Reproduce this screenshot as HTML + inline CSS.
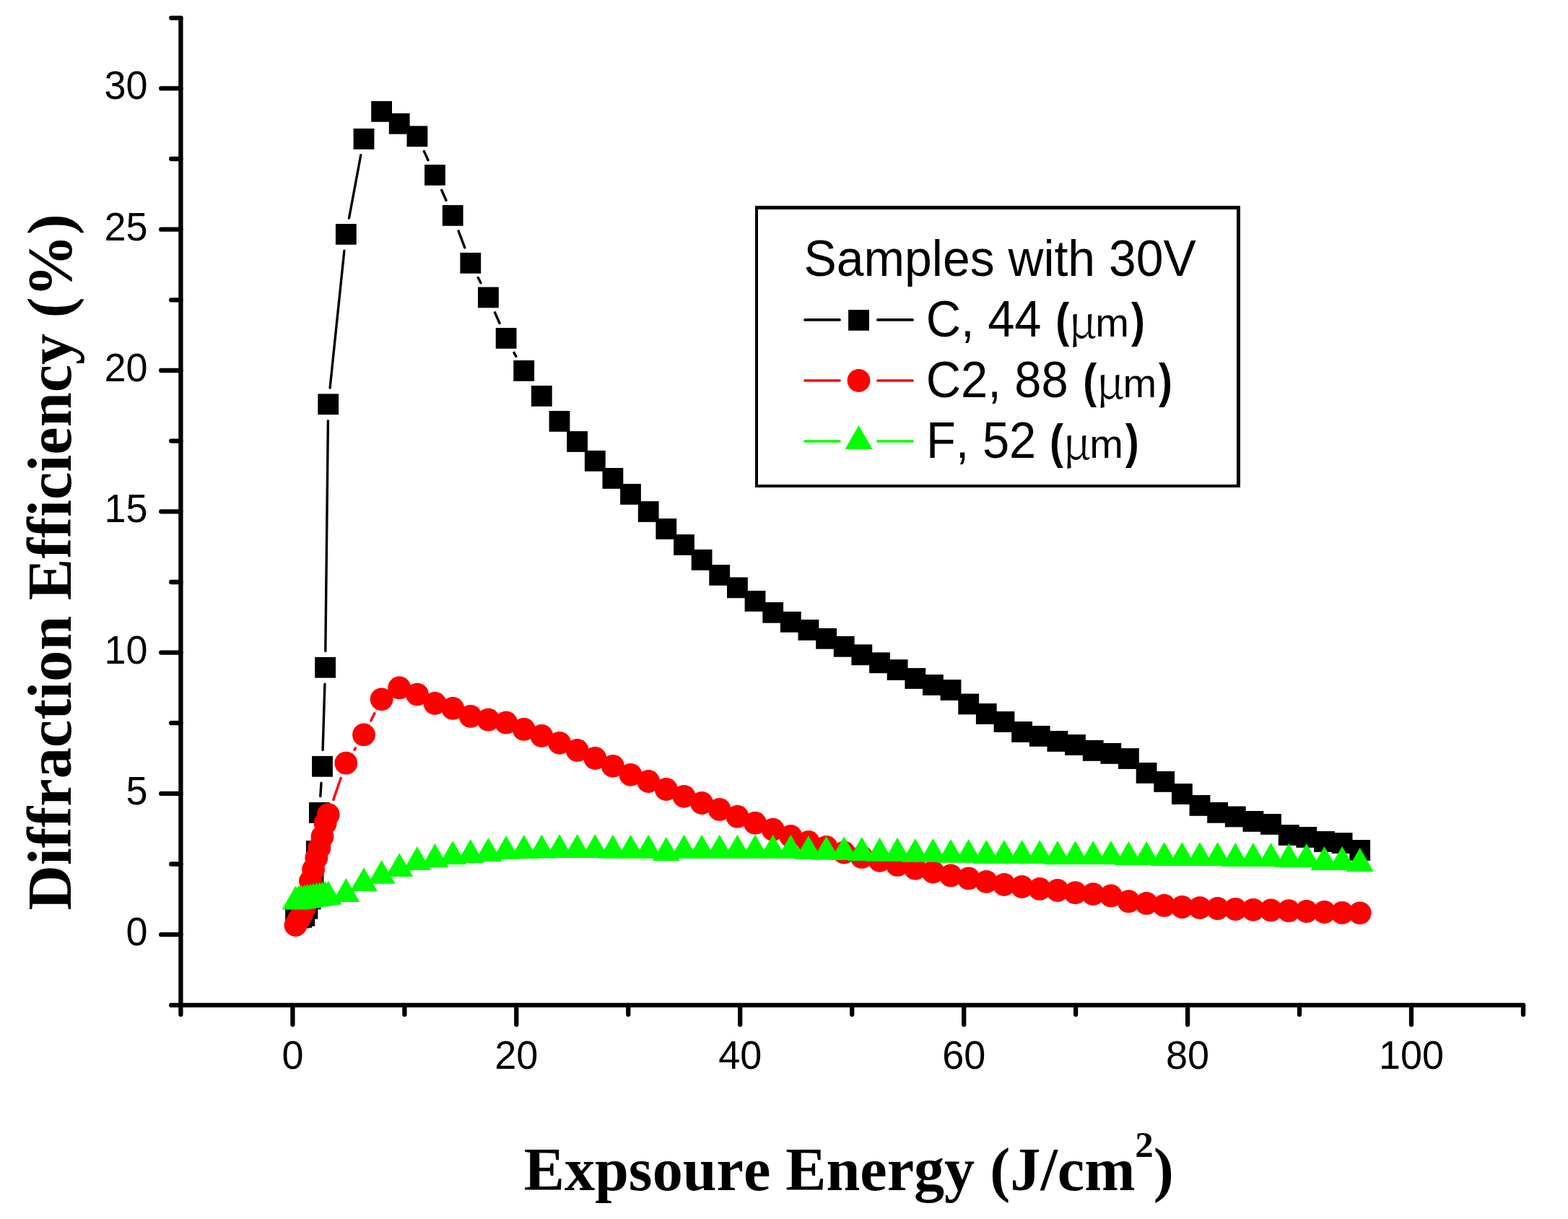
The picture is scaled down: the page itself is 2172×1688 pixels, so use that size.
<!DOCTYPE html>
<html><head><meta charset="utf-8"><title>Diffraction Efficiency vs Exposure Energy</title>
<style>html,body{margin:0;padding:0;background:#fff;overflow:hidden;} svg{display:block;} text{font-kerning:none;}</style></head>
<body>
<svg width="2172" height="1688" viewBox="0 0 2172 1688">
<rect width="2172" height="1688" fill="#fff"/>
<path d="M250.4 24.8L250.4 1391.9L2110.0 1391.9" stroke="#000" stroke-width="6.3" stroke-linecap="round" stroke-linejoin="round" fill="none"/><path d="M250.4 1294.2H223.2M250.4 1098.9H223.2M250.4 903.6H223.2M250.4 708.3H223.2M250.4 513.0H223.2M250.4 317.7H223.2M250.4 122.4H223.2M250.4 1391.9H237.2M250.4 1196.5H237.2M250.4 1001.2H237.2M250.4 806.0H237.2M250.4 610.6H237.2M250.4 415.4H237.2M250.4 220.0H237.2M250.4 24.8H237.2M405.4 1391.9V1418.8M715.3 1391.9V1418.8M1025.2 1391.9V1418.8M1335.2 1391.9V1418.8M1645.1 1391.9V1418.8M1955.0 1391.9V1418.8M250.4 1391.9V1404.8M560.4 1391.9V1404.8M870.3 1391.9V1404.8M1180.2 1391.9V1404.8M1490.1 1391.9V1404.8M1800.0 1391.9V1404.8M2110.0 1391.9V1404.8" stroke="#000" stroke-width="6.3" stroke-linecap="round" fill="none"/>
<g font-family="Liberation Sans, Arial, sans-serif" font-size="54" fill="#000"><text transform="translate(204.5 1309.2) scale(1 1.045)" text-anchor="end">0</text><text transform="translate(204.5 1113.9) scale(1 1.045)" text-anchor="end">5</text><text transform="translate(204.5 918.6) scale(1 1.045)" text-anchor="end">10</text><text transform="translate(204.5 723.3) scale(1 1.045)" text-anchor="end">15</text><text transform="translate(204.5 528.0) scale(1 1.045)" text-anchor="end">20</text><text transform="translate(204.5 332.7) scale(1 1.045)" text-anchor="end">25</text><text transform="translate(204.5 137.4) scale(1 1.045)" text-anchor="end">30</text><text transform="translate(405.4 1480.3) scale(1 1.045)" text-anchor="middle">0</text><text transform="translate(715.3 1480.3) scale(1 1.045)" text-anchor="middle">20</text><text transform="translate(1025.2 1480.3) scale(1 1.045)" text-anchor="middle">40</text><text transform="translate(1335.2 1480.3) scale(1 1.045)" text-anchor="middle">60</text><text transform="translate(1645.1 1480.3) scale(1 1.045)" text-anchor="middle">80</text><text transform="translate(1955.0 1480.3) scale(1 1.045)" text-anchor="middle">100</text></g>
<text x="725.8" y="1647.7" font-family="Liberation Serif, Times New Roman, serif" font-weight="bold" font-size="84.2" fill="#000">Expsoure Energy (J/cm<tspan font-size="51" dy="-46">2</tspan><tspan dy="46">)</tspan></text>
<text transform="translate(98 1260.6) rotate(-90)" x="0" y="0" font-family="Liberation Serif, Times New Roman, serif" font-weight="bold" font-size="86.4" fill="#000">Diffraction Efficiency (%)</text>
<path d="M440.0 1155.8L440.6 1148.1M443.8 1102.6L445.0 1084.1M447.1 1038.5L449.9 947.1M450.8 901.5L454.4 582.6M457.1 537.1L476.9 347.1M483.5 302.0L499.8 214.8M587.4 209.5L593.0 221.7M611.7 263.3L618.0 277.5M635.1 319.8L643.8 342.9M662.3 384.5L666.0 391.7M685.5 432.8L692.0 447.5M712.0 488.4L714.8 493.4" stroke="#000" stroke-width="3.4" stroke-linecap="round" fill="none"/>
<g fill="#000"><rect x="395.1" y="1257.6" width="28.8" height="28.8"/><rect x="399.2" y="1256.6" width="28.8" height="28.8"/><rect x="403.3" y="1255.9" width="28.8" height="28.8"/><rect x="407.4" y="1253.8" width="28.8" height="28.8"/><rect x="411.5" y="1243.8" width="28.8" height="28.8"/><rect x="415.6" y="1230.6" width="28.8" height="28.8"/><rect x="419.7" y="1207.6" width="28.8" height="28.8"/><rect x="423.9" y="1164.1" width="28.8" height="28.8"/><rect x="428.0" y="1111.0" width="28.8" height="28.8"/><rect x="432.1" y="1046.9" width="28.8" height="28.8"/><rect x="436.2" y="909.9" width="28.8" height="28.8"/><rect x="440.3" y="545.4" width="28.8" height="28.8"/><rect x="464.9" y="310.0" width="28.8" height="28.8"/><rect x="489.6" y="178.0" width="28.8" height="28.8"/><rect x="514.2" y="140.0" width="28.8" height="28.8"/><rect x="538.8" y="156.9" width="28.8" height="28.8"/><rect x="563.5" y="174.4" width="28.8" height="28.8"/><rect x="588.1" y="228.0" width="28.8" height="28.8"/><rect x="612.8" y="284.0" width="28.8" height="28.8"/><rect x="637.4" y="349.9" width="28.8" height="28.8"/><rect x="662.0" y="397.5" width="28.8" height="28.8"/><rect x="686.7" y="454.0" width="28.8" height="28.8"/><rect x="711.3" y="499.0" width="28.8" height="28.8"/><rect x="735.9" y="534.0" width="28.8" height="28.8"/><rect x="760.6" y="569.0" width="28.8" height="28.8"/><rect x="785.2" y="597.1" width="28.8" height="28.8"/><rect x="809.9" y="623.9" width="28.8" height="28.8"/><rect x="834.5" y="648.0" width="28.8" height="28.8"/><rect x="859.1" y="670.0" width="28.8" height="28.8"/><rect x="883.8" y="694.1" width="28.8" height="28.8"/><rect x="908.4" y="718.0" width="28.8" height="28.8"/><rect x="933.1" y="740.0" width="28.8" height="28.8"/><rect x="957.7" y="760.9" width="28.8" height="28.8"/><rect x="982.3" y="782.0" width="28.8" height="28.8"/><rect x="1007.0" y="799.4" width="28.8" height="28.8"/><rect x="1031.6" y="818.0" width="28.8" height="28.8"/><rect x="1056.3" y="833.9" width="28.8" height="28.8"/><rect x="1080.9" y="846.9" width="28.8" height="28.8"/><rect x="1105.5" y="858.0" width="28.8" height="28.8"/><rect x="1130.2" y="869.9" width="28.8" height="28.8"/><rect x="1154.8" y="880.9" width="28.8" height="28.8"/><rect x="1179.4" y="892.4" width="28.8" height="28.8"/><rect x="1204.1" y="903.4" width="28.8" height="28.8"/><rect x="1228.7" y="913.2" width="28.8" height="28.8"/><rect x="1253.4" y="925.1" width="28.8" height="28.8"/><rect x="1278.0" y="934.1" width="28.8" height="28.8"/><rect x="1302.6" y="941.1" width="28.8" height="28.8"/><rect x="1327.3" y="960.6" width="28.8" height="28.8"/><rect x="1351.9" y="974.1" width="28.8" height="28.8"/><rect x="1376.6" y="985.1" width="28.8" height="28.8"/><rect x="1401.2" y="999.1" width="28.8" height="28.8"/><rect x="1425.8" y="1005.0" width="28.8" height="28.8"/><rect x="1450.5" y="1012.1" width="28.8" height="28.8"/><rect x="1475.1" y="1017.1" width="28.8" height="28.8"/><rect x="1499.8" y="1025.0" width="28.8" height="28.8"/><rect x="1524.4" y="1029.0" width="28.8" height="28.8"/><rect x="1549.0" y="1036.1" width="28.8" height="28.8"/><rect x="1573.7" y="1056.0" width="28.8" height="28.8"/><rect x="1598.3" y="1068.0" width="28.8" height="28.8"/><rect x="1623.0" y="1085.1" width="28.8" height="28.8"/><rect x="1647.6" y="1101.0" width="28.8" height="28.8"/><rect x="1672.2" y="1110.9" width="28.8" height="28.8"/><rect x="1696.9" y="1116.5" width="28.8" height="28.8"/><rect x="1721.5" y="1123.0" width="28.8" height="28.8"/><rect x="1746.1" y="1127.0" width="28.8" height="28.8"/><rect x="1770.8" y="1142.0" width="28.8" height="28.8"/><rect x="1795.4" y="1145.0" width="28.8" height="28.8"/><rect x="1820.1" y="1151.0" width="28.8" height="28.8"/><rect x="1844.7" y="1153.1" width="28.8" height="28.8"/><rect x="1869.3" y="1163.0" width="28.8" height="28.8"/></g>
<path d="M461.8 1107.4L472.2 1077.3M490.9 1038.2L492.4 1035.9M513.7 997.9L518.8 987.8" stroke="#f00" stroke-width="3.4" stroke-linecap="round" fill="none"/>
<g fill="#f00"><circle cx="409.5" cy="1281.0" r="15.9"/><circle cx="413.6" cy="1274.0" r="15.9"/><circle cx="417.7" cy="1267.0" r="15.9"/><circle cx="421.8" cy="1257.0" r="15.9"/><circle cx="425.9" cy="1240.0" r="15.9"/><circle cx="430.0" cy="1220.0" r="15.9"/><circle cx="434.1" cy="1204.0" r="15.9"/><circle cx="438.3" cy="1188.0" r="15.9"/><circle cx="442.4" cy="1174.0" r="15.9"/><circle cx="446.5" cy="1158.5" r="15.9"/><circle cx="450.6" cy="1140.0" r="15.9"/><circle cx="454.7" cy="1128.0" r="15.9"/><circle cx="479.3" cy="1056.7" r="15.9"/><circle cx="504.0" cy="1017.4" r="15.9"/><circle cx="528.6" cy="968.3" r="15.9"/><circle cx="553.2" cy="952.4" r="15.9"/><circle cx="577.9" cy="961.6" r="15.9"/><circle cx="602.5" cy="974.0" r="15.9"/><circle cx="627.2" cy="980.9" r="15.9"/><circle cx="651.8" cy="991.9" r="15.9"/><circle cx="676.4" cy="996.7" r="15.9"/><circle cx="701.1" cy="1000.7" r="15.9"/><circle cx="725.7" cy="1009.9" r="15.9"/><circle cx="750.3" cy="1018.9" r="15.9"/><circle cx="775.0" cy="1028.8" r="15.9"/><circle cx="799.6" cy="1039.0" r="15.9"/><circle cx="824.3" cy="1050.0" r="15.9"/><circle cx="848.9" cy="1060.8" r="15.9"/><circle cx="873.5" cy="1072.8" r="15.9"/><circle cx="898.2" cy="1082.0" r="15.9"/><circle cx="922.8" cy="1093.0" r="15.9"/><circle cx="947.5" cy="1102.8" r="15.9"/><circle cx="972.1" cy="1112.0" r="15.9"/><circle cx="996.7" cy="1120.9" r="15.9"/><circle cx="1021.4" cy="1130.7" r="15.9"/><circle cx="1046.0" cy="1139.7" r="15.9"/><circle cx="1070.7" cy="1148.7" r="15.9"/><circle cx="1095.3" cy="1157.9" r="15.9"/><circle cx="1119.9" cy="1166.0" r="15.9"/><circle cx="1144.6" cy="1173.0" r="15.9"/><circle cx="1169.2" cy="1180.5" r="15.9"/><circle cx="1193.8" cy="1186.9" r="15.9"/><circle cx="1218.5" cy="1191.8" r="15.9"/><circle cx="1243.1" cy="1197.9" r="15.9"/><circle cx="1267.8" cy="1202.7" r="15.9"/><circle cx="1292.4" cy="1207.6" r="15.9"/><circle cx="1317.0" cy="1212.4" r="15.9"/><circle cx="1341.7" cy="1216.4" r="15.9"/><circle cx="1366.3" cy="1220.9" r="15.9"/><circle cx="1391.0" cy="1225.0" r="15.9"/><circle cx="1415.6" cy="1228.0" r="15.9"/><circle cx="1440.2" cy="1230.9" r="15.9"/><circle cx="1464.9" cy="1233.0" r="15.9"/><circle cx="1489.5" cy="1236.2" r="15.9"/><circle cx="1514.2" cy="1238.1" r="15.9"/><circle cx="1538.8" cy="1240.4" r="15.9"/><circle cx="1563.4" cy="1248.2" r="15.9"/><circle cx="1588.1" cy="1250.9" r="15.9"/><circle cx="1612.7" cy="1253.9" r="15.9"/><circle cx="1637.4" cy="1256.0" r="15.9"/><circle cx="1662.0" cy="1257.1" r="15.9"/><circle cx="1686.6" cy="1258.0" r="15.9"/><circle cx="1711.3" cy="1259.0" r="15.9"/><circle cx="1735.9" cy="1259.8" r="15.9"/><circle cx="1760.5" cy="1260.4" r="15.9"/><circle cx="1785.2" cy="1261.2" r="15.9"/><circle cx="1809.8" cy="1262.0" r="15.9"/><circle cx="1834.5" cy="1263.0" r="15.9"/><circle cx="1859.1" cy="1263.9" r="15.9"/><circle cx="1883.7" cy="1264.3" r="15.9"/></g>
<path d="" stroke="#0f0" stroke-width="3.4" stroke-linecap="round" fill="none"/>
<path fill="#0f0" d="M409.5 1226.6L428.5 1259.5L390.6 1259.5ZM413.6 1225.9L432.6 1258.8L394.7 1258.8ZM417.7 1225.3L436.7 1258.2L398.8 1258.2ZM421.8 1224.7L440.8 1257.6L402.9 1257.6ZM425.9 1224.0L444.9 1256.9L407.0 1256.9ZM430.0 1223.4L449.0 1256.3L411.1 1256.3ZM434.1 1222.7L453.1 1255.6L415.2 1255.6ZM438.3 1222.1L457.2 1255.0L419.3 1255.0ZM442.4 1221.5L461.3 1254.4L423.4 1254.4ZM446.5 1220.8L465.4 1253.7L427.5 1253.7ZM450.6 1220.2L469.5 1253.1L431.6 1253.1ZM454.7 1219.6L473.6 1252.5L435.7 1252.5ZM479.3 1216.1L498.3 1249.0L460.4 1249.0ZM504.0 1201.2L522.9 1234.1L485.0 1234.1ZM528.6 1190.9L547.5 1223.8L509.6 1223.8ZM553.2 1181.2L572.2 1214.1L534.3 1214.1ZM577.9 1172.0L596.8 1204.9L558.9 1204.9ZM602.5 1168.1L621.5 1201.0L583.6 1201.0ZM627.2 1164.2L646.1 1197.1L608.2 1197.1ZM651.8 1162.1L670.7 1195.0L632.8 1195.0ZM676.4 1160.0L695.4 1192.9L657.5 1192.9ZM701.1 1157.1L720.0 1190.0L682.1 1190.0ZM725.7 1156.1L744.7 1189.0L706.8 1189.0ZM750.3 1155.7L769.3 1188.6L731.4 1188.6ZM775.0 1155.1L793.9 1188.0L756.0 1188.0ZM799.6 1155.1L818.6 1188.0L780.7 1188.0ZM824.3 1155.0L843.2 1187.9L805.3 1187.9ZM848.9 1155.8L867.9 1188.7L830.0 1188.7ZM873.5 1155.8L892.5 1188.7L854.6 1188.7ZM898.2 1155.8L917.1 1188.7L879.2 1188.7ZM922.8 1159.0L941.8 1191.9L903.9 1191.9ZM947.5 1155.8L966.4 1188.7L928.5 1188.7ZM972.1 1155.8L991.0 1188.7L953.1 1188.7ZM996.7 1155.8L1015.7 1188.7L977.8 1188.7ZM1021.4 1155.8L1040.3 1188.7L1002.4 1188.7ZM1046.0 1155.8L1065.0 1188.7L1027.1 1188.7ZM1070.7 1155.8L1089.6 1188.7L1051.7 1188.7ZM1095.3 1155.8L1114.2 1188.7L1076.3 1188.7ZM1119.9 1157.0L1138.9 1189.9L1101.0 1189.9ZM1144.6 1157.7L1163.5 1190.6L1125.6 1190.6ZM1169.2 1158.2L1188.2 1191.1L1150.3 1191.1ZM1193.8 1159.0L1212.8 1191.9L1174.9 1191.9ZM1218.5 1159.8L1237.4 1192.7L1199.5 1192.7ZM1243.1 1159.8L1262.1 1192.7L1224.2 1192.7ZM1267.8 1160.9L1286.7 1193.8L1248.8 1193.8ZM1292.4 1160.9L1311.4 1193.8L1273.5 1193.8ZM1317.0 1161.9L1336.0 1194.8L1298.1 1194.8ZM1341.7 1161.9L1360.6 1194.8L1322.7 1194.8ZM1366.3 1163.0L1385.3 1195.9L1347.4 1195.9ZM1391.0 1163.0L1409.9 1195.9L1372.0 1195.9ZM1415.6 1163.0L1434.6 1195.9L1396.7 1195.9ZM1440.2 1163.2L1459.2 1196.1L1421.3 1196.1ZM1464.9 1164.2L1483.8 1197.1L1445.9 1197.1ZM1489.5 1164.2L1508.5 1197.1L1470.6 1197.1ZM1514.2 1164.2L1533.1 1197.1L1495.2 1197.1ZM1538.8 1164.2L1557.7 1197.1L1519.8 1197.1ZM1563.4 1165.1L1582.4 1198.0L1544.5 1198.0ZM1588.1 1165.1L1607.0 1198.0L1569.1 1198.0ZM1612.7 1166.0L1631.7 1198.9L1593.8 1198.9ZM1637.4 1166.0L1656.3 1198.9L1618.4 1198.9ZM1662.0 1166.0L1680.9 1198.9L1643.0 1198.9ZM1686.6 1166.0L1705.6 1198.9L1667.7 1198.9ZM1711.3 1167.0L1730.2 1199.9L1692.3 1199.9ZM1735.9 1167.0L1754.9 1199.9L1717.0 1199.9ZM1760.5 1167.0L1779.5 1199.9L1741.6 1199.9ZM1785.2 1168.1L1804.1 1201.0L1766.2 1201.0ZM1809.8 1168.1L1828.8 1201.0L1790.9 1201.0ZM1834.5 1172.0L1853.4 1204.9L1815.5 1204.9ZM1859.1 1172.0L1878.1 1204.9L1840.2 1204.9ZM1883.7 1174.0L1902.7 1206.9L1864.8 1206.9Z"/>
<g fill="#000"><rect x="1046" y="285" width="4" height="390"/><rect x="1046" y="285" width="672" height="5"/><rect x="1713" y="285" width="5" height="390"/><rect x="1046" y="671" width="672" height="4"/></g><path d="M1115 442.9H1163M1215.9 442.9H1264.1" stroke="#000" stroke-width="3.7" stroke-linecap="round"/><rect x="1175.1" y="429.0" width="28.8" height="28.8" fill="#000"/><text transform="translate(1282.7 465.7) scale(1 1.045)" font-family="Liberation Sans, Arial, sans-serif" font-size="66.9">C, 44</text><text transform="translate(1462.15 465.7) scale(0.85 1)" font-family="Liberation Sans, Arial, sans-serif" font-weight="bold" font-size="66.9">(</text><text x="1480.30" y="467.5" font-family="Noto Serif CJK SC, DejaVu Serif, serif" font-size="61.8">μ</text><text x="1517.30" y="465.7" font-family="Liberation Sans, Arial, sans-serif" font-size="56">m</text><text transform="translate(1566.90 465.7) scale(0.85 1)" font-family="Liberation Sans, Arial, sans-serif" font-weight="bold" font-size="66.9">)</text><path d="M1115 527.0H1163M1215.9 527.0H1264.1" stroke="#f00" stroke-width="3.7" stroke-linecap="round"/><circle cx="1189.5" cy="527.0" r="15.9" fill="#f00"/><text transform="translate(1282.7 550.0) scale(1 1.045)" font-family="Liberation Sans, Arial, sans-serif" font-size="66.9">C2, 88</text><text transform="translate(1500.35 550.0) scale(0.85 1)" font-family="Liberation Sans, Arial, sans-serif" font-weight="bold" font-size="66.9">(</text><text x="1518.50" y="551.8" font-family="Noto Serif CJK SC, DejaVu Serif, serif" font-size="61.8">μ</text><text x="1555.50" y="550.0" font-family="Liberation Sans, Arial, sans-serif" font-size="56">m</text><text transform="translate(1605.10 550.0) scale(0.85 1)" font-family="Liberation Sans, Arial, sans-serif" font-weight="bold" font-size="66.9">)</text><path d="M1115 611.0H1163M1215.9 611.0H1264.1" stroke="#0f0" stroke-width="3.7" stroke-linecap="round"/><path d="M1189.5 589.1L1208.5 622.0L1170.5 622.0Z" fill="#0f0"/><text transform="translate(1282.9 633.8) scale(1 1.045)" font-family="Liberation Sans, Arial, sans-serif" font-size="66.9">F, 52</text><text transform="translate(1454.05 633.8) scale(0.85 1)" font-family="Liberation Sans, Arial, sans-serif" font-weight="bold" font-size="66.9">(</text><text x="1472.20" y="635.6" font-family="Noto Serif CJK SC, DejaVu Serif, serif" font-size="61.8">μ</text><text x="1509.20" y="633.8" font-family="Liberation Sans, Arial, sans-serif" font-size="56">m</text><text transform="translate(1558.80 633.8) scale(0.85 1)" font-family="Liberation Sans, Arial, sans-serif" font-weight="bold" font-size="66.9">)</text><text transform="translate(1113.6 381.6) scale(1 1.04)" font-family="Liberation Sans, Arial, sans-serif" font-size="67.85" fill="#000">Samples with 30V</text>
</svg>
</body></html>
